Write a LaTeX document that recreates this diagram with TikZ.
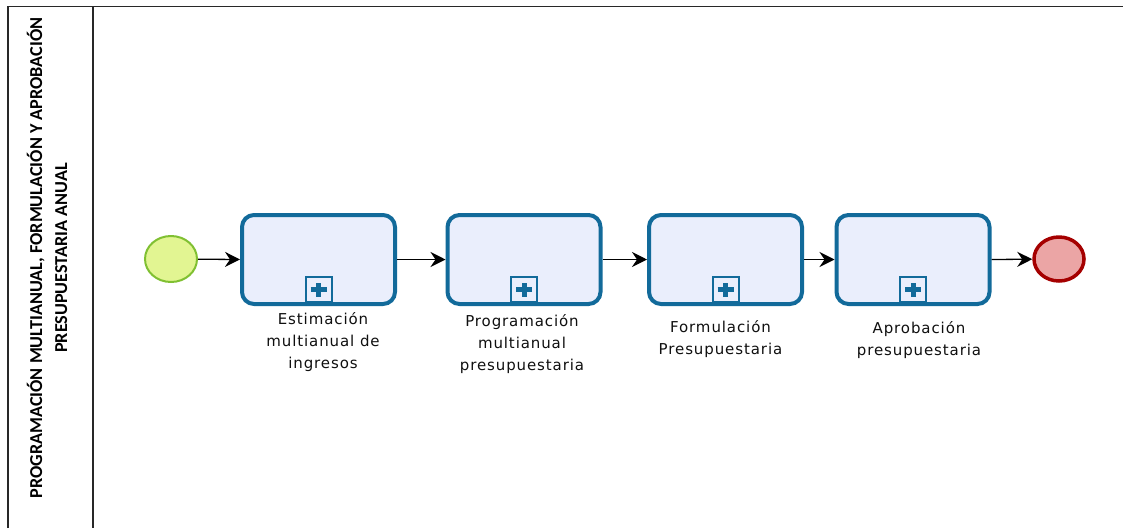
\documentclass[tikz,border=0pt]{standalone}
\usepackage{fontspec}
\usetikzlibrary{arrows.meta,shapes.geometric}
\newfontfamily\lblfont[LetterSpace=6]{DejaVu Sans}
\newfontfamily\lanefont{Carlito}
\definecolor{taskblue}{RGB}{18,106,154}
\definecolor{taskfill}{RGB}{234,238,252}
\definecolor{startfill}{RGB}{226,245,146}
\definecolor{startline}{RGB}{128,192,50}
\definecolor{stopfill}{RGB}{235,165,165}
\definecolor{stopline}{RGB}{165,0,0}
\definecolor{framegray}{RGB}{40,40,40}
\definecolor{lbltext}{RGB}{15,15,15}
\begin{document}
\begin{tikzpicture}[x=1pt,y=-1pt,
  taskbox/.style={draw=taskblue,fill=taskfill,line width=4pt,rounded corners=12pt,
    minimum width=153pt,minimum height=89pt,inner sep=0pt},
  marker/.style={draw=taskblue,fill=taskfill,line width=2pt,minimum width=26pt,
    minimum height=25pt,inner sep=0pt,
    path picture={
      \draw[taskblue,line width=5pt]
        ([xshift=-8pt]path picture bounding box.center) -- ([xshift=8pt]path picture bounding box.center);
      \draw[taskblue,line width=5pt]
        ([yshift=-7pt]path picture bounding box.center) -- ([yshift=7pt]path picture bounding box.center);
    }},
  startev/.style={ellipse,draw=startline,fill=startfill,line width=2pt,
    minimum width=52pt,minimum height=46pt,inner sep=0pt},
  stopev/.style={ellipse,draw=stopline,fill=stopfill,line width=3.5pt,
    minimum width=50pt,minimum height=44pt,inner sep=0pt},
  flow/.style={draw=black,line width=1.3pt,-{Stealth[length=15pt,width=15pt,inset=5pt]}},
  lbl/.style={anchor=north,align=center,inner sep=0pt,text=lbltext,
    font=\lblfont\fontsize{15}{22}\selectfont},
  frame/.style={draw=framegray,line width=1.8pt},
  lanetitle/.style={rotate=90,align=center,inner sep=0pt,text=black,
    font=\lanefont\bfseries\fontsize{18.2}{25}\selectfont}
  ]
\useasboundingbox (0,0) rectangle (1123,528);
% pool frame
\draw[frame] (8,528) -- (8,6.5) -- (1123,6.5);
\draw[frame] (93,6.5) -- (93,528);
\node[lanetitle] (lane) at (47,258) {PROGRAMACIÓN MULTIANUAL, FORMULACIÓN Y APROBACIÓN\\PRESUPUESTARIA ANUAL};
% events
\node[startev] (start) at (171,259) {};
\node[stopev] (stop) at (1059,259) {};
% tasks
\node[taskbox] (t1) at (318.5,259.5) {};
\node[taskbox] (t2) at (524,259.5) {};
\node[taskbox] (t3) at (725.5,259.5) {};
\node[taskbox] (t4) at (913,259.5) {};
% subprocess markers
\node[marker] (p1) at (318.5,289.5) {};
\node[marker] (p2) at (524,289.5) {};
\node[marker] (p3) at (725.5,289.5) {};
\node[marker] (p4) at (913,289.5) {};
% labels
\node[lbl] (l1) at (323,312) {Estimación\\multianual de\\ingresos};
\node[lbl] (l2) at (522,314) {Programación\\multianual\\presupuestaria};
\node[lbl] (l3) at (720.5,320) {Formulación\\Presupuestaria};
\node[lbl] (l4) at (919,321) {Aprobación\\presupuestaria};
% flows
\draw[flow] (start) -- (t1.west);
\draw[flow] (t1.east) -- (t2.west);
\draw[flow] (t2.east) -- (t3.west);
\draw[flow] (t3.east) -- (t4.west);
\draw[flow] (t4.east) -- (stop);
\end{tikzpicture}
\end{document}
